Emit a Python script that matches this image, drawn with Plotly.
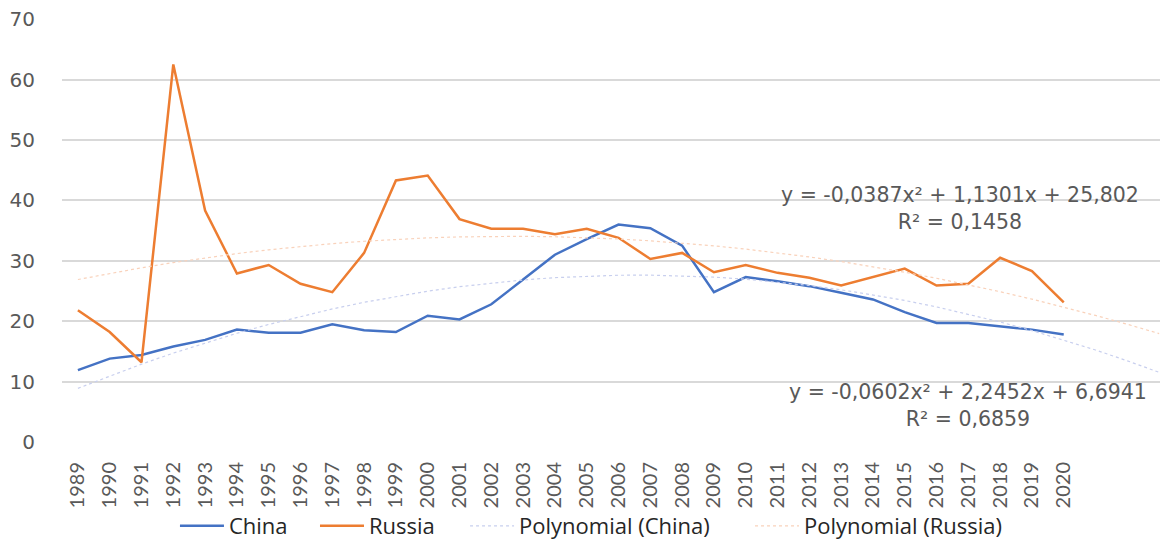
import numpy as np
import plotly.graph_objects as go

years = list(range(1989, 2021))
china = [11.9, 13.8, 14.4, 15.8, 16.9, 18.6, 18.1, 18.1, 19.5, 18.5, 18.2,
         20.9, 20.3, 22.8, 26.9, 31.0, 33.6, 36.0, 35.4, 32.5, 24.8, 27.3,
         26.6, 25.8, 24.7, 23.6, 21.5, 19.7, 19.7, 19.2, 18.6, 17.8]
russia = [21.8, 18.2, 13.2, 62.5, 38.3, 27.9, 29.3, 26.2, 24.8, 31.3, 43.3,
          44.1, 36.9, 35.3, 35.3, 34.4, 35.3, 33.8, 30.3, 31.3, 28.1, 29.3,
          28.0, 27.2, 25.9, 27.3, 28.7, 25.9, 26.2, 30.5, 28.3, 23.1]
# Trendline coefficients as displayed on the chart (a, b, c) for y = a x^2 + b x + c
china_poly = [-0.0602, 2.2452, 6.6941]
russia_poly = [-0.0387, 1.1301, 25.802]
forecast_periods = 3
china_eq = "y = -0,0602x² + 2,2452x + 6,6941<br>R² = 0,6859"
russia_eq = "y = -0,0387x² + 1,1301x + 25,802<br>R² = 0,1458"

idx = np.arange(1, len(years) + forecast_periods + 1)
trend_years = [years[0] + i - 1 for i in idx]
china_trend = np.polyval(china_poly, idx)
russia_trend = np.polyval(russia_poly, idx)

fig = go.Figure()
fig.add_trace(go.Scatter(x=years, y=china, mode="lines", name="China", legend="legend",
                         line=dict(color="#4472C4", width=2.5)))
fig.add_trace(go.Scatter(x=years, y=russia, mode="lines", name="Russia", legend="legend2",
                         line=dict(color="#ED7D31", width=2.5)))
fig.add_trace(go.Scatter(x=trend_years, y=china_trend, mode="lines", name="Polynomial (China)",
                         legend="legend3",
                         line=dict(color="#c8cfee", width=1.2, dash="dot")))
fig.add_trace(go.Scatter(x=trend_years, y=russia_trend, mode="lines", name="Polynomial (Russia)",
                         legend="legend4",
                         line=dict(color="#f9d2bb", width=1.2, dash="dot")))

fig.add_annotation(x=2016.75, y=38.6, xref="x", yref="y", text=russia_eq,
                   showarrow=False, font=dict(family="DejaVu Sans", size=20.5, color="#595959"))
fig.add_annotation(x=2017.0, y=6.0, xref="x", yref="y", text=china_eq,
                   showarrow=False, font=dict(family="DejaVu Sans", size=20.5, color="#595959"))

leg_font = dict(family="Open Sans", size=22, color="#262626")
def leg(xp):
    return dict(orientation="h", x=xp, xanchor="left", y=-0.199, yanchor="middle",
                font=leg_font, itemwidth=44, bgcolor="rgba(0,0,0,0)")

fig.update_layout(
    width=1168, height=539,
    margin=dict(l=54, r=0, t=11, b=104),
    paper_bgcolor="white", plot_bgcolor="white",
    showlegend=True,
    legend=leg(0.1014), legend2=leg(0.2271), legend3=leg(0.3618), legend4=leg(0.6176),
)
fig.update_xaxes(range=[1988.5, 2023.53], tickmode="array", tickvals=years,
                 ticktext=[str(y) for y in years], tickangle=-90,
                 tickfont=dict(family="Lato", size=20, color="#595959"),
                 showgrid=False, zeroline=False, showline=False, ticklabelstandoff=15,
                 ticklabeloverflow="allow", automargin=False)
fig.update_yaxes(range=[0, 70.02], tickmode="array", tickvals=[0, 10, 20, 30, 40, 50, 60, 70],
                 tickfont=dict(family="DejaVu Sans", size=20, color="#595959"),
                 showgrid=True, gridcolor="#d9d9d9", gridwidth=1.5,
                 zeroline=False, showline=False, ticklabelstandoff=26,
                 ticklabeloverflow="allow", automargin=False)

fig.write_html("out.html")
